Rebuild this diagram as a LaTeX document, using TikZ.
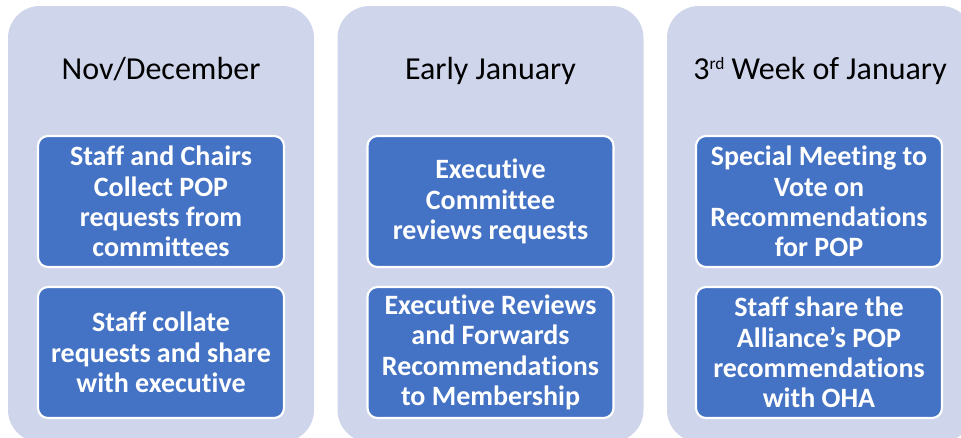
\documentclass[tikz,border=0pt]{standalone}
\usepackage{fontspec}
\setmainfont[Ligatures={NoCommon}]{Carlito}
\definecolor{lav}{HTML}{CFD5EA}
\definecolor{acc}{HTML}{4472C4}
\tikzset{
  colbg/.style={fill=lav, rounded corners=24pt},
  stepbox/.style={fill=acc, draw=white, line width=1.6pt, rounded corners=7.5pt,
    minimum width=184.5pt, minimum height=98.25pt, inner sep=0pt},
  boxtext/.style={text=white, align=center, inner sep=0pt,
    font=\fontsize{21pt}{22.8pt}\selectfont\bfseries},
  coltitle/.style={text=black, anchor=base, inner sep=0pt,
    font=\fontsize{24pt}{28pt}\selectfont}
}
\newcommand{\supraised}[1]{\raisebox{7.5pt}{\fontsize{13pt}{15pt}\selectfont #1}}
\begin{document}
\begin{tikzpicture}[x=0.75pt, y=-0.75pt]
\useasboundingbox (0,0) rectangle (961,437);
\clip (0,0) rectangle (961,437);
% columns
\fill[colbg] (8,6) rectangle (314,442);
\fill[colbg] (337.5,6) rectangle (643.5,442);
\fill[colbg] (667,6) rectangle (973,442);
% titles
\node[coltitle] (t1) at (161,79.5) {Nov/December};
\node[coltitle] (t2) at (490.5,79.5) {Early January};
\node[coltitle] (t3) at (820,79.5) {3\supraised{rd} Week of January};
% boxes
\node[stepbox] (b11) at (161,201.5) {};
\node[stepbox] (b12) at (161,352.5) {};
\node[stepbox] (b21) at (490.5,201.5) {};
\node[stepbox] (b22) at (490.5,352.5) {};
\node[stepbox] (b31) at (819,201.5) {};
\node[stepbox] (b32) at (819,352.5) {};
% texts
\node[boxtext] (x11) at (b11.center) {Staff and Chairs\\Collect POP\\requests from\\committees};
\node[boxtext] (x12) at (b12.center) {Staff collate\\requests and share\\with executive};
\node[boxtext] (x21) at (b21.center) {Executive\\Committee\\reviews requests};
\node[boxtext] (x22) at (b22.center) {Executive Reviews\\and Forwards\\Recommendations\\to Membership};
\node[boxtext] (x31) at (b31.center) {Special Meeting to\\Vote on\\Recommendations\\for POP};
\node[boxtext] (x32) at (b32.center) {Staff share the\\Alliance’s POP\\recommendations\\with OHA};
\end{tikzpicture}
\end{document}
